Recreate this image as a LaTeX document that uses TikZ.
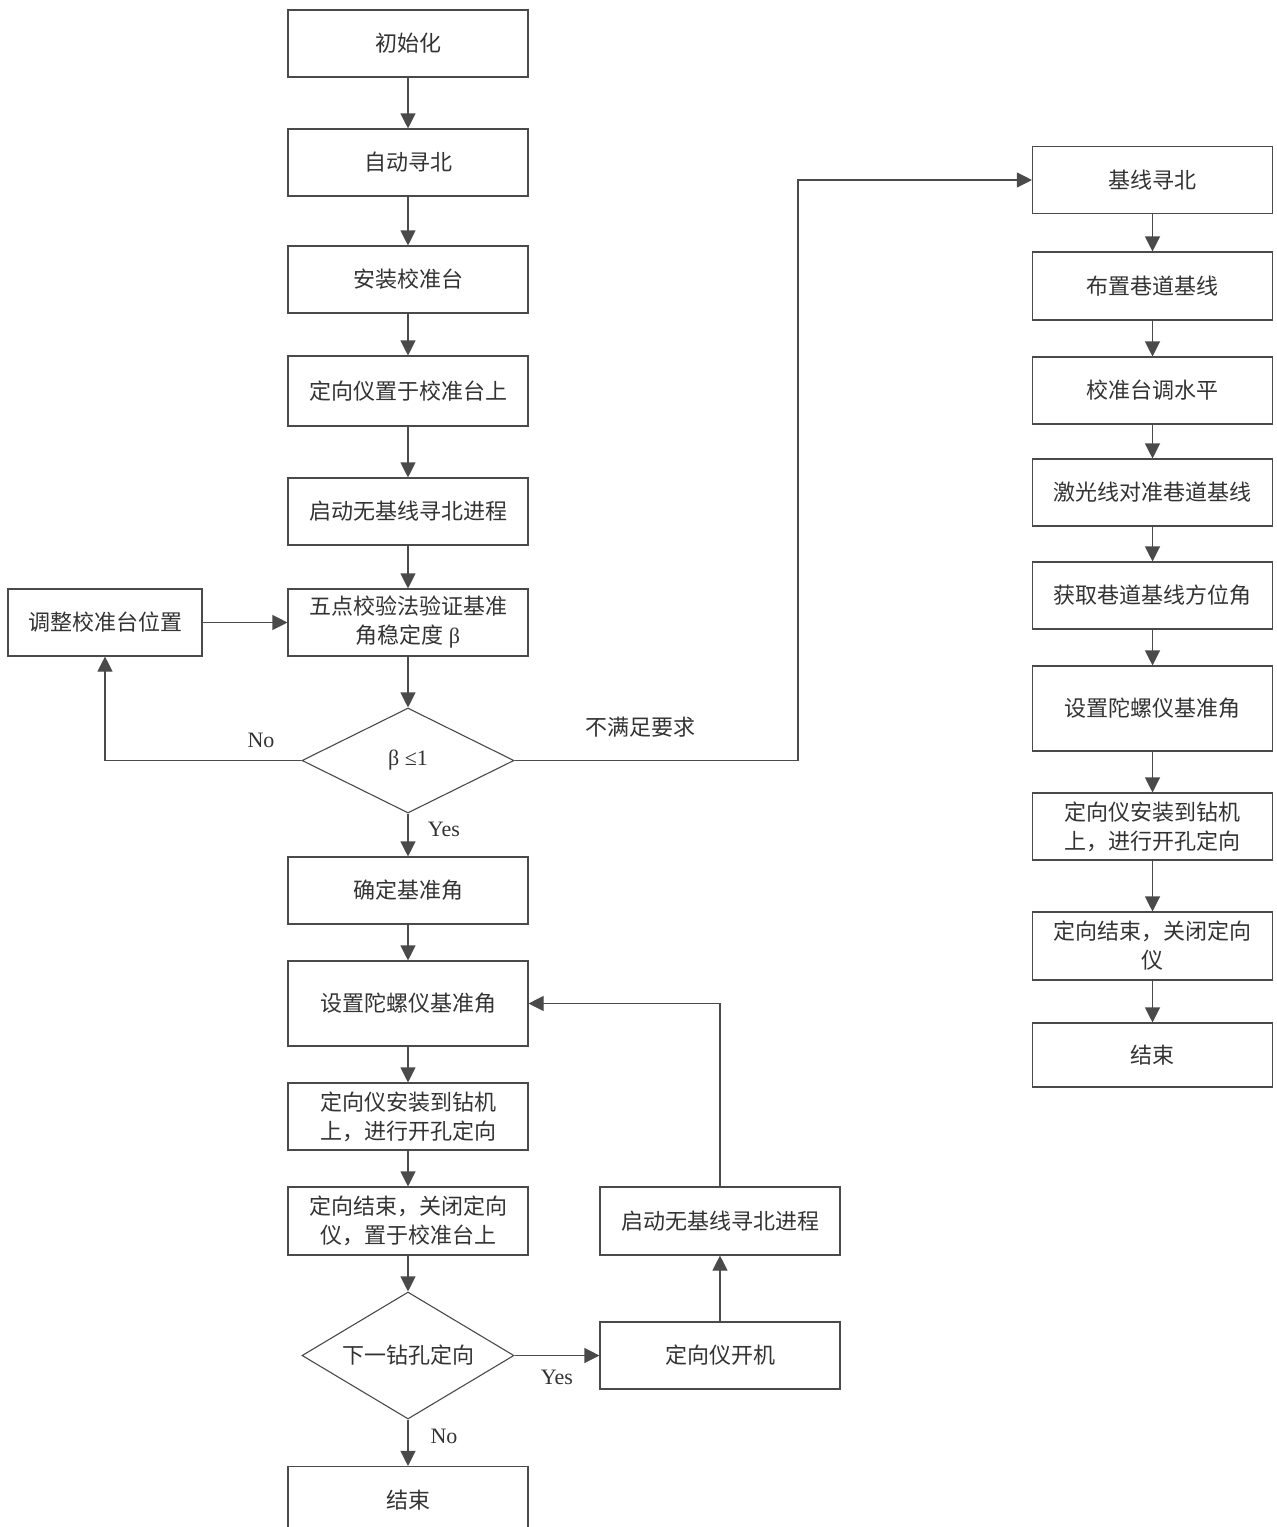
\documentclass[tikz,border=0pt]{standalone}
\usepackage{fontspec}
\setmainfont{Liberation Serif}
\newfontfamily\cjk{Noto Sans CJK SC}
\usetikzlibrary{arrows.meta,shapes.geometric}
\definecolor{linec}{HTML}{4A4A4A}
\definecolor{txt}{HTML}{333333}
\begin{document}
\begin{tikzpicture}[x=1pt,y=-1pt,
  box/.style={draw=linec, line width=1.1pt, minimum width=240pt, minimum height=67pt,
    inner sep=0pt, align=center, text=txt, font=\cjk\fontsize{22}{29}\selectfont},
  dia/.style={draw=linec, line width=1.1pt, diamond, aspect=1.7, minimum width=212pt, minimum height=105pt,
    inner sep=0pt, align=center, text=txt, font=\cjk\fontsize{22}{29}\selectfont},
  arr/.style={draw=linec, line width=1.1pt, -{Triangle[width=15pt,length=15pt]}},
  ln/.style={draw=linec, line width=1.1pt},
  lab/.style={text=txt, font=\fontsize{22}{26}\selectfont, inner sep=0pt},
  clab/.style={text=txt, font=\cjk\fontsize{22}{26}\selectfont, inner sep=0pt}]
\useasboundingbox[fill=white] (0,0) rectangle (1277,1527);
% left column
\node[box] (a1) at (408,43.5) {初始化};
\node[box] (a2) at (408,162.5) {自动寻北};
\node[box] (a3) at (408,279.5) {安装校准台};
\node[box, minimum height=70pt] (a4) at (408,391) {定向仪置于校准台上};
\node[box] (a5) at (408,511.5) {启动无基线寻北进程};
\node[box] (a6) at (408,622.5) {五点校验法验证基准\\角稳定度 {\rmfamily β}};
\node[box, minimum width=194pt] (adj) at (105,622.5) {调整校准台位置};
\node[dia] (d1) at (408,760.5) {{\rmfamily β ≤1}};
\node[box] (a7) at (408,890.5) {确定基准角};
\node[box, minimum height=85pt] (a8) at (408,1003.5) {设置陀螺仪基准角};
\node[box] (a9) at (408,1116.5) {定向仪安装到钻机\\上，进行开孔定向};
\node[box, minimum height=68pt] (a10) at (408,1221) {定向结束，关闭定向\\仪，置于校准台上};
\node[dia, minimum height=127pt] (d2) at (408,1355.5) {下一钻孔定向};
\node[box] (a11) at (408,1500) {结束};
% middle loop
\node[box, minimum height=67pt] (m2) at (720,1355.5) {定向仪开机};
\node[box, minimum height=68pt] (m1) at (720,1221) {启动无基线寻北进程};
% right column
\node[box] (b1) at (1152.5,180) {基线寻北};
\node[box, minimum height=68pt] (b2) at (1152.5,286) {布置巷道基线};
\node[box] (b3) at (1152.5,390.5) {校准台调水平};
\node[box] (b4) at (1152.5,492.5) {激光线对准巷道基线};
\node[box] (b5) at (1152.5,595.5) {获取巷道基线方位角};
\node[box, minimum height=85pt] (b6) at (1152.5,708.5) {设置陀螺仪基准角};
\node[box] (b7) at (1152.5,826.5) {定向仪安装到钻机\\上，进行开孔定向};
\node[box, minimum height=68pt] (b8) at (1152.5,946) {定向结束，关闭定向\\仪};
\node[box, minimum height=64pt] (b9) at (1152.5,1055) {结束};
% connectors left
\draw[arr] (a1) -- (a2);
\draw[arr] (a2) -- (a3);
\draw[arr] (a3) -- (a4);
\draw[arr] (a4) -- (a5);
\draw[arr] (a5) -- (a6);
\draw[arr] (adj) -- (a6);
\draw[arr] (a6) -- (d1);
\draw[arr] (d1.west) -| (adj.south);
\draw[arr] (d1.south) -- (a7);
\draw[arr] (a7) -- (a8);
\draw[arr] (a8) -- (a9);
\draw[arr] (a9) -- (a10);
\draw[arr] (a10) -- (d2);
\draw[arr] (d2.south) -- (a11);
\draw[arr] (d2.east) -- (m2);
\draw[arr] (m2) -- (m1);
\draw[arr] (m1.north) |- (a8.east);
\coordinate (c1) at (798,180);
\draw[arr] (d1.east) -| (c1) -- (b1.west);
% connectors right
\draw[arr] (b1) -- (b2);
\draw[arr] (b2) -- (b3);
\draw[arr] (b3) -- (b4);
\draw[arr] (b4) -- (b5);
\draw[arr] (b5) -- (b6);
\draw[arr] (b6) -- (b7);
\draw[arr] (b7) -- (b8);
\draw[arr] (b8) -- (b9);
% labels
\node[lab] (l1) at (261,740) {No};
\node[clab] (l2) at (640,727) {不满足要求};
\node[lab] (l3) at (444,829) {Yes};
\node[lab] (l4) at (557,1377) {Yes};
\node[lab] (l5) at (444,1436) {No};
\end{tikzpicture}
\end{document}
